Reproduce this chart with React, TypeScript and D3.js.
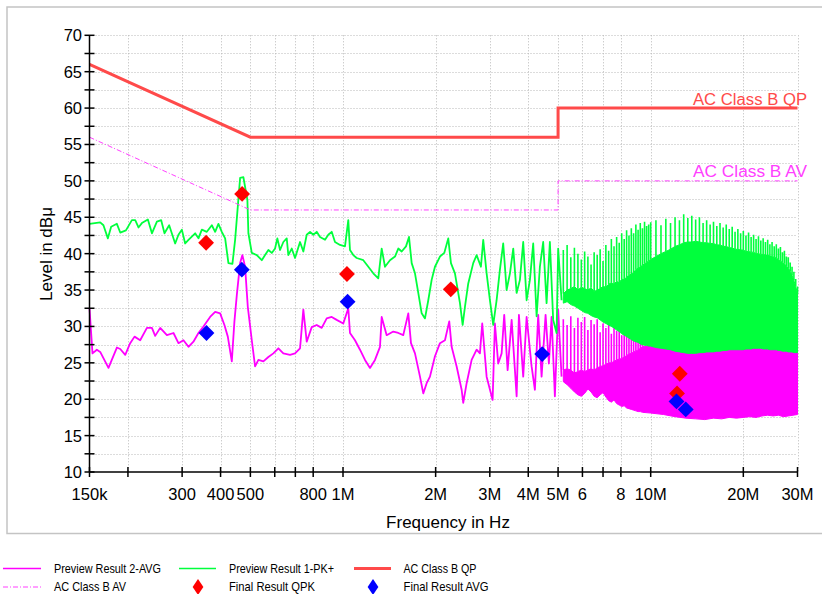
import * as d3 from "d3";

const W = 822;
const H = 594;

// frequency in MHz, level in dBµV
const F_MIN = 0.15;
const F_MAX = 30;
const DB_MIN = 10;
const DB_MAX = 70;

const X_TICKS = [0.15, 0.2, 0.3, 0.4, 0.5, 0.6, 0.7, 0.8, 1, 2, 3, 4, 5, 6, 7, 8, 10, 20, 30];
const X_LABELS = ["150k", "", "300", "400", "500", "", "", "800", "1M", "2M", "3M", "4M", "5M", "6", "", "8", "10M", "20M", "30M"];
const Y_TICKS = [10, 12.5, 15, 17.5, 20, 22.5, 25, 27.5, 30, 32.5, 35, 37.5, 40, 42.5, 45, 47.5, 50, 52.5, 55, 57.5, 60, 62.5, 65, 67.5, 70];
const Y_LABELS = [10, 15, 20, 25, 30, 35, 40, 45, 50, 55, 60, 65, 70];

// limit lines (class B)
const LIMIT_F = [0.15, 0.5, 5, 5, 30];
const QP_LIMIT = [66, 56, 56, 60, 60];
const AV_LIMIT = [56, 46, 46, 50, 50];

// final measurements
const QPK_F = [0.359, 0.47, 1.03, 2.24, 12.43, 12.18];
const QPK_DB = [41.5, 48.2, 37.2, 35.1, 23.5, 20.8];
const AVG_F = [0.36, 0.469, 1.035, 4.44, 12.13, 13.0];
const AVG_DB = [29.1, 37.8, 33.4, 26.2, 19.7, 18.6];

// Preview Result 1-PK+ (green), resolved part
const PK_TRACE: [number, number][] = [
  [0.15, 44.1], [0.1625, 44.3], [0.1665, 43.9], [0.1721, 42.1], [0.1764, 43.7], [0.1841, 44.1], [0.1888, 42.9],
  [0.197, 43.2], [0.206, 44.6], [0.2112, 44.6], [0.2164, 43.6], [0.222, 44.2], [0.2322, 44.7], [0.2393, 42.8],
  [0.2484, 44.4], [0.2565, 44.6], [0.2629, 42.8], [0.2723, 43.9], [0.2848, 41.4], [0.2919, 42.6], [0.2994, 43.3],
  [0.3069, 41.4], [0.3146, 41.9], [0.3307, 42.8], [0.339, 42.1], [0.3477, 43.3], [0.3609, 43.0], [0.3747, 43.9],
  [0.3841, 43.0], [0.3936, 44.1], [0.4038, 43.0], [0.4139, 42.1], [0.4242, 38.7], [0.4371, 38.6], [0.446, 41.9],
  [0.4551, 46.5], [0.463, 50.4], [0.4745, 50.5], [0.4889, 47.4], [0.4926, 42.8], [0.5053, 40.1], [0.5246, 39.8],
  [0.5445, 39.1], [0.5581, 39.8], [0.5721, 40.5], [0.5868, 40.1], [0.6014, 40.7], [0.6118, 42.1], [0.6243, 40.5],
  [0.6399, 41.6], [0.6563, 42.1], [0.6642, 39.8], [0.6813, 40.7], [0.6984, 39.4], [0.725, 41.6], [0.7431, 40.3],
  [0.7622, 42.6], [0.7813, 43.0], [0.8008, 42.6], [0.8214, 43.0], [0.842, 42.3], [0.874, 41.9], [0.8958, 42.6],
  [0.9189, 43.0], [0.9418, 41.6], [0.9777, 41.2], [1.0149, 41.0], [1.0403, 44.6], [1.0536, 40.5], [1.08, 39.8],
  [1.1078, 39.4], [1.1641, 39.1], [1.2085, 38.2], [1.2544, 37.3], [1.3021, 36.6], [1.3357, 40.7], [1.369, 38.2],
  [1.4211, 39.1], [1.4755, 39.6], [1.5125, 40.7], [1.5513, 40.3], [1.6022, 41.0], [1.6385, 42.3], [1.6719, 38.7],
  [1.7137, 37.3], [1.7565, 34.6], [1.8016, 31.8], [1.8468, 31.1], [1.8929, 33.6], [1.9414, 36.4], [1.99, 38.2],
  [2.0658, 39.6], [2.1333, 40.1], [2.1981, 42.1], [2.243, 38.7], [2.3111, 37.3], [2.3993, 33.2], [2.4482, 30.2],
  [2.4906, 32.7], [2.5529, 35.9], [2.6499, 38.7], [2.7182, 39.8], [2.8071, 38.2], [2.8559, 41.9], [2.9292, 37.3],
  [3.0024, 33.6], [3.0776, 30.2], [3.1568, 33.6], [3.2358, 37.8], [3.3167, 41.4], [3.4019, 35.0], [3.4878, 37.3],
  [3.575, 40.7], [3.6666, 34.6], [3.7583, 36.4], [3.852, 41.6], [3.9512, 33.6], [4.0499, 36.4], [4.1511, 41.4],
  [4.2579, 31.4], [4.3641, 38.2], [4.473, 41.6], [4.588, 33.2], [4.7027, 41.6], [4.8203, 30.9], [4.9443, 29.1],
  [5.0037, 40.7], [5.1327, 33.6],
];

// PK+ dense harmonic region: [MHz, floor, body, peak]
const PK_DENSE: number[][] = [
  [5.2, 33.2, 34.5, 40.5], [5.35, 33.4, 35.0, 41.2], [5.5, 33.0, 35.2, 39.5], [5.65, 32.8, 35.5, 40.8],
  [5.8, 32.5, 35.0, 40.0], [5.95, 32.2, 35.4, 39.2], [6.1, 31.9, 35.2, 40.3], [6.25, 31.8, 35.0, 39.6],
  [6.4, 31.5, 35.3, 38.5], [6.55, 31.3, 34.8, 40.2], [6.7, 31.2, 35.0, 39.8], [6.85, 30.9, 35.2, 40.6],
  [7.0, 30.6, 35.5, 39.0], [7.15, 30.4, 35.4, 41.2], [7.3, 30.2, 35.8, 40.4], [7.45, 30.0, 36.0, 42.0],
  [7.6, 29.8, 35.8, 41.0], [7.75, 29.5, 36.2, 42.3], [7.9, 29.3, 36.0, 41.5], [8.05, 29.0, 36.5, 42.8],
  [8.2, 28.8, 36.4, 42.0], [8.35, 28.6, 36.8, 43.2], [8.5, 28.4, 37.0, 42.5], [8.65, 28.2, 37.2, 43.5],
  [8.8, 28.0, 37.4, 42.8], [8.95, 27.9, 37.8, 44.0], [9.1, 27.8, 38.0, 43.3], [9.25, 27.6, 38.2, 44.2],
  [9.4, 27.5, 38.4, 43.5], [9.55, 27.4, 38.6, 44.4], [9.7, 27.4, 38.8, 43.8], [9.85, 27.3, 39.0, 44.0],
  [10.0, 27.3, 39.2, 44.3], [10.4, 27.1, 39.6, 44.6], [10.8, 27.0, 40.0, 43.9], [11.2, 26.9, 40.3, 44.8],
  [11.6, 26.8, 40.6, 44.2], [12.0, 26.6, 41.0, 45.0], [12.4, 26.5, 41.2, 44.6], [12.8, 26.4, 41.5, 45.4],
  [13.2, 26.3, 41.6, 44.9], [13.6, 26.3, 41.6, 45.2], [14.0, 26.3, 41.7, 44.7], [14.4, 26.4, 41.6, 45.0],
  [14.8, 26.4, 41.5, 44.2], [15.2, 26.5, 41.5, 44.6], [15.6, 26.5, 41.4, 44.0], [16.0, 26.5, 41.4, 44.4],
  [16.4, 26.6, 41.2, 43.8], [16.8, 26.6, 41.2, 44.2], [17.2, 26.7, 41.0, 43.6], [17.6, 26.7, 41.0, 44.0],
  [18.0, 26.8, 40.8, 43.4], [18.4, 26.8, 40.8, 43.7], [18.8, 26.8, 40.6, 43.0], [19.2, 26.8, 40.6, 43.4],
  [19.6, 26.8, 40.5, 42.8], [20.0, 26.8, 40.5, 43.1], [20.4, 26.9, 40.3, 42.5], [20.8, 26.9, 40.3, 42.9],
  [21.2, 26.9, 40.2, 42.3], [21.6, 27.0, 40.2, 42.6], [22.0, 27.0, 40.0, 42.0], [22.4, 27.0, 40.0, 42.4],
  [22.8, 27.0, 39.9, 41.8], [23.2, 26.9, 39.9, 42.1], [23.6, 26.9, 39.8, 41.6], [24.0, 26.9, 39.8, 41.9],
  [24.4, 26.8, 39.7, 41.3], [24.8, 26.8, 39.6, 41.6], [25.2, 26.8, 39.5, 41.0], [25.6, 26.8, 39.4, 41.3],
  [26.0, 26.7, 39.2, 40.7], [26.4, 26.7, 39.0, 40.9], [26.8, 26.6, 38.8, 40.2], [27.2, 26.6, 38.6, 40.4],
  [27.6, 26.6, 38.3, 39.6], [28.0, 26.5, 38.0, 39.5], [28.4, 26.5, 37.6, 38.8], [28.8, 26.5, 37.0, 38.2],
  [29.2, 26.4, 36.3, 37.5], [29.6, 26.4, 35.5, 36.5], [30.0, 26.4, 34.5, 35.5],
];

// Preview Result 2-AVG (magenta), resolved part
const AVG_TRACE: [number, number][] = [
  [0.15, 32.5], [0.1534, 26.3], [0.1585, 26.8], [0.1625, 26.5], [0.1729, 24.3], [0.1841, 27.1], [0.1888, 26.9],
  [0.196, 26.1], [0.2034, 27.7], [0.2101, 28.6], [0.2192, 28.1], [0.2305, 29.8], [0.2393, 29.8], [0.2452, 28.7],
  [0.2546, 29.8], [0.2677, 28.8], [0.2812, 29.1], [0.2919, 27.7], [0.303, 28.1], [0.3146, 27.2], [0.3265, 27.9],
  [0.339, 29.1], [0.3519, 30.0], [0.3699, 31.3], [0.3841, 32.0], [0.3987, 31.8], [0.4117, 30.2], [0.4223, 28.6],
  [0.4351, 25.2], [0.4437, 30.7], [0.4517, 34.3], [0.463, 38.7], [0.471, 39.8], [0.4806, 38.2], [0.4904, 32.7],
  [0.5053, 28.1], [0.5179, 24.5], [0.5309, 25.4], [0.5511, 25.2], [0.5721, 25.8], [0.5938, 26.3], [0.6165, 27.0],
  [0.6399, 26.3], [0.6727, 26.1], [0.6984, 26.3], [0.725, 27.0], [0.7431, 32.3], [0.7622, 27.9], [0.7913, 29.9],
  [0.8214, 30.2], [0.8527, 29.8], [0.8852, 31.1], [0.9189, 31.3], [0.9537, 30.9], [1.0021, 30.4], [1.0403, 32.5],
  [1.0536, 29.1], [1.0938, 28.1], [1.1355, 26.8], [1.1788, 25.4], [1.2238, 24.3], [1.2704, 25.4], [1.3189, 27.2],
  [1.3357, 31.3], [1.3865, 28.8], [1.4569, 29.3], [1.5125, 29.1], [1.57, 28.8], [1.6299, 31.8], [1.6632, 27.7],
  [1.7137, 26.3], [1.7789, 23.1], [1.8234, 20.8], [1.8702, 22.2], [1.917, 23.1], [1.99, 25.9], [2.0658, 27.7],
  [2.1445, 28.1], [2.2146, 30.7], [2.2547, 27.2], [2.3406, 24.5], [2.4298, 21.3], [2.4591, 19.5], [2.5224, 22.2],
  [2.6184, 25.4], [2.7182, 26.8], [2.7861, 26.3], [2.8345, 30.4], [2.9292, 23.1], [3.0637, 19.9], [3.1168, 30.4],
  [3.1947, 24.9], [3.2773, 26.3], [3.3417, 31.6], [3.4278, 24.0], [3.5322, 30.9], [3.6666, 20.4], [3.7302, 31.6],
  [3.852, 23.1], [3.9512, 31.3], [4.1016, 24.5], [4.2039, 21.3], [4.309, 31.6], [4.4198, 23.1], [4.5539, 31.6],
  [4.6676, 24.9], [4.763, 31.3], [4.8819, 20.4], [5.0037, 32.3], [5.1327, 23.1],
];

// AVG dense harmonic region: [MHz, floor, body, peak]
const AVG_DENSE: number[][] = [
  [5.2, 22.4, 24.0, 31.0], [5.35, 22.0, 24.2, 30.2], [5.5, 21.5, 24.0, 31.4], [5.65, 21.0, 23.6, 29.8],
  [5.8, 20.6, 23.8, 31.2], [5.95, 20.4, 24.0, 30.6], [6.1, 20.8, 23.8, 31.3], [6.25, 21.4, 24.0, 29.5],
  [6.4, 21.0, 24.2, 30.9], [6.55, 20.4, 24.0, 30.3], [6.7, 20.2, 24.3, 31.0], [6.85, 20.6, 24.5, 29.2],
  [7.0, 20.9, 24.6, 30.4], [7.15, 20.3, 24.8, 29.8], [7.3, 19.8, 25.0, 30.5], [7.45, 19.6, 25.0, 29.0],
  [7.6, 19.9, 25.2, 30.0], [7.75, 19.4, 25.4, 29.4], [7.9, 19.2, 25.5, 29.8], [8.05, 19.0, 25.6, 28.8],
  [8.2, 19.1, 25.8, 29.5], [8.35, 18.8, 26.0, 28.9], [8.5, 18.7, 26.2, 29.2], [8.65, 18.6, 26.3, 28.4],
  [8.8, 18.5, 26.5, 28.9], [8.95, 18.4, 26.6, 28.2], [9.1, 18.3, 26.8, 28.6], [9.25, 18.3, 27.0, 28.0],
  [9.4, 18.2, 27.2, 28.4], [10, 18.1, 27.5, 27.5], [11, 17.9, 27.4, 27.4], [12, 17.6, 27.2, 27.2],
  [13, 17.4, 27.0, 27.0], [14, 17.3, 27.0, 27.0], [15, 17.2, 27.0, 27.0], [16, 17.4, 27.1, 27.1],
  [17, 17.3, 27.2, 27.2], [18, 17.5, 27.2, 27.2], [19, 17.4, 27.3, 27.3], [20, 17.5, 27.3, 27.3],
  [21, 17.6, 27.4, 27.4], [22, 17.5, 27.4, 27.4], [23, 17.7, 27.4, 27.4], [24, 17.8, 27.3, 27.3],
  [25, 17.7, 27.3, 27.3], [26, 17.8, 27.2, 27.2], [27, 17.6, 27.2, 27.2], [28, 17.7, 27.0, 27.0],
  [29, 17.8, 27.0, 27.0], [30, 17.9, 26.8, 26.8],
];

const GREEN = "#00ff3c";
const MAGENTA = "#ff00ff";
const QP_RED = "#ff4a4a";
const AV_PINK = "#ff40ff";
const FONT = "'Liberation Sans', Arial, Helvetica, sans-serif";

const LEGEND_ROW1 = ["Preview Result 2-AVG", "Preview Result 1-PK+", "AC Class B QP"];
const LEGEND_ROW2 = ["AC Class B AV", "Final  Result QPK", "Final  Result AVG"];
const LEGEND_W1 = [107, 105, 73];
const LEGEND_W2 = [72, 86, 85];

export default function App() {
  const x = d3.scaleLog().domain([F_MIN, F_MAX]).range([89.5, 797.5]);
  const y = d3.scaleLinear().domain([DB_MIN, DB_MAX]).range([472, 35.3]);

  const line = d3.line<[number, number]>().x(d => x(d[0])).y(d => y(d[1]));
  const band = d3.area<number[]>().x(d => x(d[0])).y0(d => y(d[1])).y1(d => y(d[2]));
  const spikes = (rows: number[][]) =>
    rows.filter(r => r[3] > r[2]).map(r => `M${x(r[0])},${y(r[2])}V${y(r[3])}`).join("");

  const qpPath = line(LIMIT_F.map((f, i) => [f, QP_LIMIT[i]] as [number, number])) ?? "";
  const avPath = line(LIMIT_F.map((f, i) => [f, AV_LIMIT[i]] as [number, number])) ?? "";
  const diamond = d3.symbol().type(d3.symbolSquare).size(125)() ?? "";

  const x0 = x(F_MIN), x1 = x(F_MAX), yb = y(DB_MIN), yt = y(DB_MAX);
  const colX = [3, 179, 354];
  const textX = [54, 229, 403.5];

  return (
    <div style={{ position: "absolute", left: 0, top: 0 }}>
      <svg width={W} height={H} style={{ display: "block", background: "#fff" }} fontFamily={FONT}>
        <rect x={7} y={7} width={830} height={526.5} fill="none" stroke="#c4c4c4" strokeWidth={1.5} />

        {/* grid */}
        <g stroke="#b8b8b8" strokeWidth={1} strokeDasharray="1,2">
          {Y_TICKS.filter(v => v > DB_MIN).map(v => (
            <line key={`gy${v}`} x1={x0} x2={x1} y1={Math.round(y(v)) + 0.5} y2={Math.round(y(v)) + 0.5} />
          ))}
          {X_TICKS.filter(f => f > F_MIN).map(f => (
            <line key={`gx${f}`} x1={Math.round(x(f)) + 0.5} x2={Math.round(x(f)) + 0.5} y1={yt} y2={yb} />
          ))}
        </g>

        {/* AVG preview */}
        <path d={band(AVG_DENSE) ?? ""} fill={MAGENTA} stroke={MAGENTA} strokeWidth={1} />
        <path d={spikes(AVG_DENSE)} stroke={MAGENTA} strokeWidth={1.6} fill="none" />
        <path d={line(AVG_TRACE) ?? ""} stroke={MAGENTA} strokeWidth={1.8} fill="none" strokeLinejoin="round" />

        {/* PK+ preview */}
        <path d={band(PK_DENSE) ?? ""} fill={GREEN} stroke={GREEN} strokeWidth={1} />
        <path d={spikes(PK_DENSE)} stroke={GREEN} strokeWidth={1.6} fill="none" />
        <path d={line(PK_TRACE) ?? ""} stroke={GREEN} strokeWidth={1.8} fill="none" strokeLinejoin="round" />

        {/* limits */}
        <path d={qpPath} stroke={QP_RED} strokeWidth={3} fill="none" />
        <path d={avPath} stroke={AV_PINK} strokeWidth={1} strokeDasharray="5,2,1,2" fill="none" />
        <text x={693} y={105} fontSize={16} fill={QP_RED} textLength={114} lengthAdjust="spacingAndGlyphs">AC Class B QP</text>
        <text x={693} y={177} fontSize={16} fill={AV_PINK} textLength={114} lengthAdjust="spacingAndGlyphs">AC Class B AV</text>

        {/* final results */}
        {QPK_F.map((f, i) => (
          <path key={`q${i}`} d={diamond} fill="#ff0000" transform={`translate(${x(f)},${y(QPK_DB[i])}) rotate(45)`} />
        ))}
        {AVG_F.map((f, i) => (
          <path key={`a${i}`} d={diamond} fill="#0000ff" transform={`translate(${x(f)},${y(AVG_DB[i])}) rotate(45)`} />
        ))}

        {/* axes */}
        <g stroke="#000" strokeWidth={1.5}>
          <line x1={x0} x2={x0} y1={yt} y2={yb} />
          <line x1={x0} x2={x1} y1={yb} y2={yb} />
          {Y_TICKS.map(v => (
            <line key={`ty${v}`} x1={x0 - 5} x2={x0 + 5} y1={y(v)} y2={y(v)} />
          ))}
          {X_TICKS.map(f => (
            <line key={`tx${f}`} x1={x(f)} x2={x(f)} y1={yb - 5} y2={yb + 5} />
          ))}
        </g>
        <g fontSize={16.5} fill="#000">
          {Y_LABELS.map(v => (
            <text key={`ly${v}`} x={82} y={y(v)} dy="0.36em" textAnchor="end">{v}</text>
          ))}
          {X_TICKS.map((f, i) => X_LABELS[i] ? (
            <text key={`lx${f}`} x={x(f)} y={500} textAnchor="middle">{X_LABELS[i]}</text>
          ) : null)}
        </g>
        <text x={448} y={528} fontSize={17} textAnchor="middle">Frequency in Hz</text>
        <text transform="translate(52,254) rotate(-90)" fontSize={17} textAnchor="middle">Level in dBμ</text>

        {/* legend */}
        <line x1={colX[0]} x2={colX[0] + 38} y1={568.5} y2={568.5} stroke={MAGENTA} strokeWidth={1.5} />
        <line x1={colX[1]} x2={colX[1] + 37} y1={568.5} y2={568.5} stroke={GREEN} strokeWidth={1.5} />
        <line x1={colX[2]} x2={colX[2] + 37} y1={568.5} y2={568.5} stroke={QP_RED} strokeWidth={3} />
        <line x1={colX[0]} x2={colX[0] + 38} y1={587} y2={587} stroke={AV_PINK} strokeWidth={1} strokeDasharray="5,2,1,2" />
        <path d={diamond} fill="#ff0000" transform="translate(198,587) scale(0.68,1) rotate(45)" />
        <path d={diamond} fill="#0000ff" transform="translate(373,587) scale(0.68,1) rotate(45)" />
        <g fontSize={13.5} fill="#000" style={{ whiteSpace: "pre" }}>
          {LEGEND_ROW1.map((t, i) => (
            <text key={`r1${i}`} x={textX[i]} y={573} textLength={LEGEND_W1[i]} lengthAdjust="spacingAndGlyphs">{t}</text>
          ))}
          {LEGEND_ROW2.map((t, i) => (
            <text key={`r2${i}`} x={textX[i]} y={590.5} textLength={LEGEND_W2[i]} lengthAdjust="spacingAndGlyphs">{t}</text>
          ))}
        </g>
      </svg>
    </div>
  );
}
